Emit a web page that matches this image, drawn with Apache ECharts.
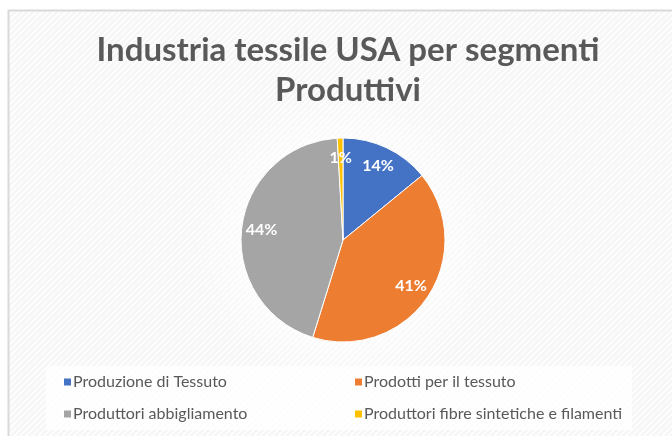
<!DOCTYPE html>
<html>
<head>
<meta charset="utf-8">
<script src="https://cdn.jsdelivr.net/npm/echarts@6/dist/echarts.min.js"></script>
<style>
html,body{margin:0;padding:0;background:#fff;}
#chartBox{width:672px;height:436px;}
</style>
</head>
<body>
<div id="chartBox"></div>
<script>
// dati del grafico
var titolo = 'Industria tessile USA per segmenti\nProduttivi';
var segmenti = ['Produzione di Tessuto', 'Prodotti per il tessuto', 'Produttori abbigliamento', 'Produttori fibre sintetiche e filamenti'];
var quote = [14.1, 40.7, 44.3, 0.9];
var colori = ['#4472C4', '#ED7D31', '#A5A5A5', '#FFC000'];

// sfondo a righe diagonali come nel foglio originale
function makeStripes() {
	var c = document.createElement('canvas');
	c.width = 6; c.height = 6;
	var ctx = c.getContext('2d');
	ctx.fillStyle = '#f6f6f6';
	ctx.fillRect(0, 0, 6, 6);
	ctx.strokeStyle = '#ffffff';
	ctx.lineWidth = 1.5;
	ctx.beginPath();
	ctx.moveTo(-1, 7); ctx.lineTo(7, -1);
	ctx.moveTo(-1, 1); ctx.lineTo(1, -1);
	ctx.moveTo(5, 7); ctx.lineTo(7, 5);
	ctx.stroke();
	return c;
}

var datiTorta = [];
for (var i = 0; i < segmenti.length; i++) {
	datiTorta.push({name: segmenti[i], value: quote[i], itemStyle: {color: colori[i]}});
}

var stileLegenda = {fontFamily: 'Lato', fontSize: 16, color: '#595959', padding: [0, 0, 0, -4]};

var myChart = echarts.init(document.getElementById('chartBox'));
var option = {
	backgroundColor: '#fff',
	animation: false,
	title: {
		text: titolo,
		left: 343,
		top: 25,
		textAlign: 'center',
		textStyle: {
			fontFamily: 'Lato',
			fontWeight: 'bold',
			fontSize: 33,
			color: '#595959',
			lineHeight: 40
		}
	},
	graphic: [
		{type: 'rect', shape: {x: 8.5, y: 10.5, width: 700, height: 500},
			style: {fill: {image: makeStripes(), repeat: 'repeat'}, stroke: '#d9d9d9', lineWidth: 2}, z: -10},
		{type: 'circle', shape: {cx: 343, cy: 240, r: 150},
			style: {fill: new echarts.graphic.RadialGradient(0.5, 0.5, 0.5, [
				{offset: 0, color: 'rgba(255,255,255,0.9)'},
				{offset: 0.7, color: 'rgba(255,255,255,0.5)'},
				{offset: 1, color: 'rgba(255,255,255,0)'}])}, z: -9},
		{type: 'rect', shape: {x: 46, y: 366, width: 586, height: 64},
			style: {fill: 'rgba(255,255,255,0.75)'}, z: -8}
	],
	legend: [
		{
			data: [segmenti[0], segmenti[2]],
			orient: 'vertical',
			left: 57,
			top: 369,
			itemGap: 16,
			itemWidth: 9,
			itemHeight: 9,
			icon: 'rect',
			textStyle: stileLegenda
		},
		{
			data: [segmenti[1], segmenti[3]],
			orient: 'vertical',
			left: 348,
			top: 369,
			itemGap: 16,
			itemWidth: 9,
			itemHeight: 9,
			icon: 'rect',
			textStyle: stileLegenda
		}
	],
	series: [
		{
			type: 'pie',
			center: [343, 240],
			radius: [0, 102],
			startAngle: 90,
			clockwise: true,
			label: {show: false},
			labelLine: {show: false},
			itemStyle: {borderColor: '#fff', borderWidth: 1},
			data: datiTorta
		},
		{
			// anello trasparente solo per posizionare le etichette percentuali
			type: 'pie',
			center: [343, 240],
			radius: [56, 102],
			startAngle: 90,
			clockwise: true,
			silent: true,
			legendHoverLink: false,
			avoidLabelOverlap: false,
			percentPrecision: 0,
			itemStyle: {color: 'rgba(0,0,0,0)'},
			label: {
				show: true,
				position: 'inside',
				formatter: '{d}%',
				fontFamily: 'Lato',
				fontWeight: 'bold',
				fontSize: 16,
				color: '#fff'
			},
			labelLayout: {hideOverlap: false},
			data: datiTorta.map(function(d) { return {name: d.name, value: d.value, itemStyle: {color: 'rgba(0,0,0,0)'}}; })
		}
	]
};
myChart.setOption(option);
</script>
</body>
</html>
